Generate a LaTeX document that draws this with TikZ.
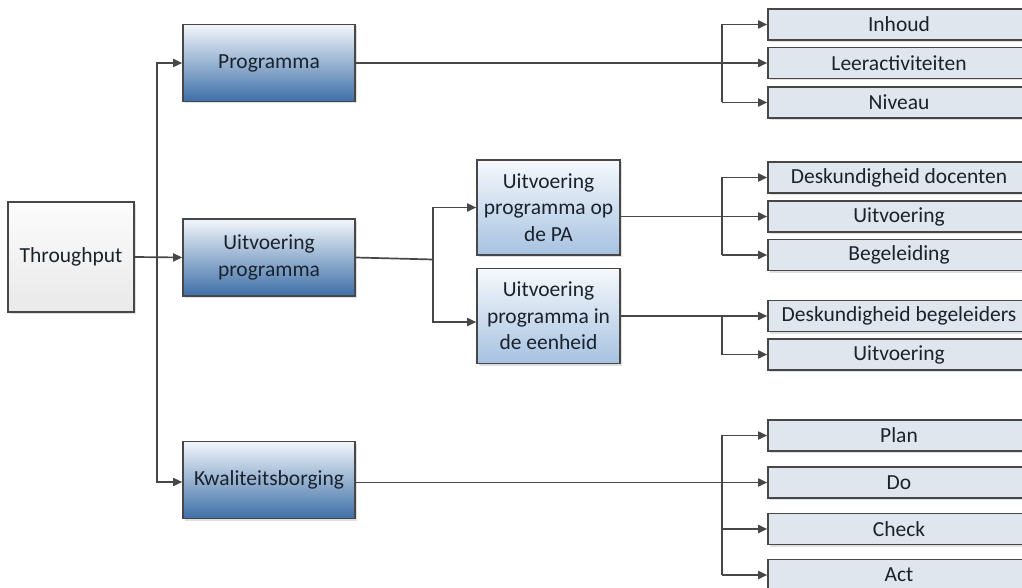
\documentclass[tikz,border=0pt]{standalone}
\usepackage{fontspec}
\setmainfont{Carlito}
\usetikzlibrary{arrows.meta,shadows}
\definecolor{ln}{HTML}{474747}
\definecolor{txt}{HTML}{1A222C}
\definecolor{bluetop}{HTML}{F2F6FB}
\definecolor{bluebot}{HTML}{3D6FA7}
\definecolor{ltop}{HTML}{F6F9FC}
\definecolor{lbot}{HTML}{A6C2E1}
\definecolor{grayfill}{HTML}{DFE6EE}
\definecolor{gtop}{HTML}{FCFCFC}
\definecolor{gbot}{HTML}{E9E9E9}
\begin{document}
\begin{tikzpicture}[x=1pt,y=-1pt,
  box/.style={draw=ln, line width=1.6pt, inner sep=0pt, align=center, text=txt,
    font=\fontsize{21.5}{26.5}\selectfont,
    drop shadow={shadow xshift=2pt, shadow yshift=-2pt, opacity=0.12, fill=black}},
  bluebox/.style={box, top color=bluetop, bottom color=bluebot, middle color=bluetop!50!bluebot,
    minimum width=172pt, minimum height=77pt},
  midbox/.style={box, top color=ltop, bottom color=lbot, minimum width=143pt, minimum height=95pt},
  leaf/.style={box, fill=grayfill, minimum width=262pt, minimum height=31pt},
  startbox/.style={box, top color=gtop, bottom color=gbot, minimum width=126pt, minimum height=110pt},
  conn/.style={draw=ln, line width=1.7pt},
  arr/.style={conn, -{Triangle[length=9pt,width=8pt]}}
]
\useasboundingbox (0,0) rectangle (1022,588);

\node[startbox] (thr) at (71,257) {Throughput};
\node[bluebox] (prog) at (269,63) {Programma};
\node[bluebox] (uit) at (269,257.5) {Uitvoering\\programma};
\node[bluebox] (kwal) at (269,480) {Kwaliteitsborging};

\node[midbox] (pa) at (548.5,207.5) {Uitvoering\\programma op\\de PA};
\node[midbox] (een) at (548.5,316) {Uitvoering\\programma in\\de eenheid};

\node[leaf] (inh) at (899,24.5) {Inhoud};
\node[leaf] (leer) at (899,63) {Leeractiviteiten};
\node[leaf] (niv) at (899,102.5) {Niveau};
\node[leaf] (dd) at (899,177.5) {Deskundigheid docenten};
\node[leaf] (uita) at (899,216.5) {Uitvoering};
\node[leaf] (beg) at (899,255) {Begeleiding};
\node[leaf] (db) at (899,316) {Deskundigheid begeleiders};
\node[leaf] (uitb) at (899,354.5) {Uitvoering};
\node[leaf] (plan) at (899,435.5) {Plan};
\node[leaf] (do) at (899,482.5) {Do};
\node[leaf] (check) at (899,529) {Check};
\node[leaf] (act) at (899,575) {Act};

\coordinate (trunk) at (157,0);
\coordinate (br) at (722,0);
\coordinate (mbr) at (433,259.5);

% left trunk
\draw[arr] (thr.east) -- (uit.west);
\draw[arr] (thr.east -| trunk) |- (prog.west);
\draw[arr] (thr.east -| trunk) |- ([yshift=-2pt]kwal.west);

% Programma
\draw[arr] (prog.east) -- (leer.west);
\draw[arr] (niv.west -| br) -- (inh.west -| br) -- (inh.west);
\draw[arr] (niv.west -| br) -- (niv.west);

% Uitvoering programma
\draw[conn] (uit.east) -- (mbr);
\draw[arr] (mbr) |- (pa.west);
\draw[arr] (mbr) |- ([yshift=-6pt]een.west);

% PA
\draw[arr] (pa.east |- uita.west) -- (uita.west);
\draw[arr] (beg.west -| br) -- (dd.west -| br) -- (dd.west);
\draw[arr] (beg.west -| br) -- (beg.west);

% eenheid
\draw[arr] (een.east) -- (db.west);
\draw[arr] (db.west -| br) |- (uitb.west);

% Kwaliteitsborging
\draw[arr] (kwal.east |- do.west) -- (do.west);
\draw[arr] (act.west -| br) -- (plan.west -| br) -- (plan.west);
\draw[arr] (check.west -| br) -- (check.west);
\draw[arr] (act.west -| br) -- (act.west);
\end{tikzpicture}
\end{document}
